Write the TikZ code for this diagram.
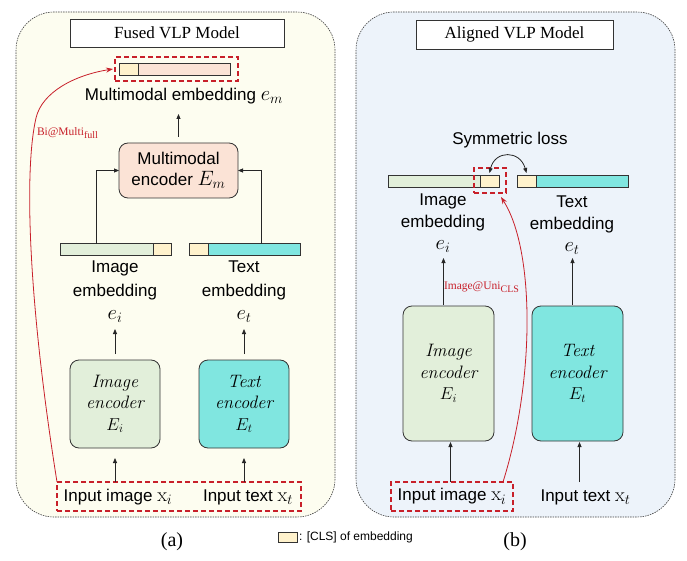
\documentclass[tikz,border=0pt]{standalone}
\usepackage{fontspec}
\newfontfamily\sansf{Liberation Sans}
\newfontfamily\seriff{Liberation Serif}
\usetikzlibrary{arrows.meta}
\definecolor{panelA}{HTML}{FDFDF0}
\definecolor{panelB}{HTML}{EDF3FA}
\definecolor{peach}{HTML}{FBE3D6}
\definecolor{clsc}{HTML}{FFF2CC}
\definecolor{imgg}{HTML}{E2EFDA}
\definecolor{txtc}{HTML}{80E6E0}
\definecolor{redd}{HTML}{C8202A}
\definecolor{edge}{HTML}{333333}
\newcommand\mymath[1]{{\fontsize{20}{20}\selectfont$#1$}}
\newcommand\mysub[1]{\raisebox{-3pt}{\fontsize{10}{10}\selectfont #1}}
\begin{document}
\begin{tikzpicture}[x=1pt,y=-1pt,
  every node/.style={inner sep=0pt,outer sep=0pt},
  panel/.style={draw=black!75,line width=0.6pt,dash pattern=on 1.5pt off 1pt,rounded corners=38pt},
  titlebox/.style={draw=edge,line width=0.9pt,fill=white,font=\seriff\fontsize{17}{20}\selectfont},
  bar/.style={draw=edge,line width=0.8pt,minimum height=12pt},
  encbox/.style={draw=edge,line width=0.8pt,rounded corners=9pt,align=center},
  enctext/.style={font=\rmfamily\itshape\fontsize{18}{21.5}\selectfont},
  lbl/.style={font=\sansf\fontsize{17}{23.5}\selectfont,align=center},
  lblb/.style={font=\sansf\fontsize{17}{22}\selectfont,align=center},
  reddash/.style={draw=redd,line width=1.1pt,dash pattern=on 5pt off 3pt},
  arr/.style={draw=black!85,line width=0.8pt,-{Triangle[length=5pt,width=4pt]}},
  redarr/.style={draw=redd,line width=0.8pt,-{Stealth[length=7pt,width=5pt]}},
  redlbl/.style={text=redd,font=\seriff\fontsize{11.5}{12}\selectfont},
  capt/.style={font=\seriff\fontsize{20}{24}\selectfont},
]
\useasboundingbox (0,0) rectangle (687,561);

% ---------- panels ----------
\node[panel,fill=panelA,minimum width=319pt,minimum height=505pt] (pA) at (175.5,264.5) {};
\node[panel,fill=panelB,minimum width=319pt,minimum height=505pt] (pB) at (515.5,264.5) {};

% ---------- (a) Fused ----------
\node[titlebox,minimum width=214pt,minimum height=28pt] (tA) at (177,33) {Fused VLP Model};

\node[bar,fill=peach,minimum width=111pt,anchor=west] (emA) at (119,69) {};
\node[bar,fill=clsc,minimum width=19pt,anchor=west] (emAc) at (emA.west) {};
\node[reddash,minimum width=123pt,minimum height=24pt] (rdA) at (176.5,69) {};
\node[lbl] (emAl) at (184,96) {Multimodal embedding \mymath{e_m}};

\node[encbox,fill=peach,minimum width=119pt,minimum height=55pt,
      font=\sansf\fontsize{17}{21}\selectfont] (mmA) at (178.5,170.5) {Multimodal\\encoder \mymath{E_m}};

\node[bar,fill=imgg,minimum width=111pt,anchor=west] (ieA) at (60,249.5) {};
\node[bar,fill=clsc,minimum width=18pt,anchor=east] (ieAc) at (ieA.east) {};
\node[bar,fill=txtc,minimum width=111pt,anchor=west] (teA) at (189,249.5) {};
\node[bar,fill=clsc,minimum width=19pt,anchor=west] (teAc) at (teA.west) {};

\node[lbl] (ieAl) at (115,292) {Image\\embedding\\\mymath{e_i}};
\node[lbl] (teAl) at (244,292) {Text\\embedding\\\mymath{e_t}};

\node[encbox,enctext,fill=imgg,minimum width=90pt,minimum height=88pt] (encIA) at (115,404) {Image\\encoder\\$E_i$};
\node[encbox,enctext,fill=txtc,minimum width=90pt,minimum height=88pt] (encTA) at (244,404) {Text\\encoder\\$E_t$};

\node[reddash,minimum width=244pt,minimum height=29pt] (rdInA) at (179,496.5) {};
\node[lbl] (inIA) at (118,497) {Input image \mymath{\mathrm{x}_i}};
\node[lbl] (inTA) at (248,497) {Input text \mymath{\mathrm{x}_t}};

\draw[arr] ([yshift=6pt]mmA.north) -- ([yshift=29pt]mmA.north);
\draw[arr] ([xshift=36pt]ieA.north west) |- (mmA.west);
\draw[arr] ([xshift=-39pt]teA.north east) |- (mmA.east);
\draw[arr] ([yshift=6pt]encIA.north) -- ([yshift=31pt]encIA.north);
\draw[arr] ([yshift=6pt]encTA.north) -- ([yshift=31pt]encTA.north);
\draw[arr] (encIA.south |- rdInA.north) -- ([yshift=-10pt]encIA.south);
\draw[arr] (encTA.south |- rdInA.north) -- ([yshift=-10pt]encTA.south);

\coordinate (bendA) at (36,118);
\draw[redarr] (rdInA.north west) .. controls (28,300) and (24,170) .. (bendA)
   .. controls (42,92) and (75,75) .. ([xshift=-2pt]rdA.west);
\node[redlbl,anchor=west] (blA) at (37,133) {Bi@Multi\mysub{full}};

\node[capt] (capA) at (172,542) {(a)};

% ---------- legend ----------
\node[bar,fill=clsc,minimum width=19pt,minimum height=10pt] (leg) at (287.5,537) {};
\node[font=\sansf\fontsize{12}{14}\selectfont,anchor=west] (legt) at ([xshift=2pt]leg.east) {: [CLS] of embedding};

% ---------- (b) Aligned ----------
\node[titlebox,minimum width=197pt,minimum height=29pt] (tB) at (514.5,34.5) {Aligned VLP Model};

\node[lbl] (sym) at (510,140) {Symmetric loss};

\node[bar,fill=imgg,minimum width=111pt,anchor=west] (ieB) at (388,181) {};
\node[bar,fill=clsc,minimum width=19pt,anchor=east] (ieBc) at (ieB.east) {};
\node[bar,fill=txtc,minimum width=111pt,anchor=west] (teB) at (517,181) {};
\node[bar,fill=clsc,minimum width=19pt,anchor=west] (teBc) at (teB.west) {};
\node[reddash,minimum width=32pt,minimum height=25pt] (rdB) at (490,180.5) {};

\draw[black!85,line width=0.8pt,{Triangle[length=5pt,width=4pt]}-{Triangle[length=5pt,width=4pt]}]
  ([yshift=2pt]ieBc.north) .. controls (495,150) and (520,150) .. ([yshift=2pt]teBc.north);

\node[lblb] (ieBl) at (443,223) {Image\\embedding\\\mymath{e_i}};
\node[lblb] (teBl) at (572,225) {Text\\embedding\\\mymath{e_t}};

\node[encbox,enctext,fill=imgg,minimum width=91pt,minimum height=135pt] (encIB) at (448.5,373.5) {Image\\encoder\\$E_i$};
\node[encbox,enctext,fill=txtc,minimum width=91pt,minimum height=135pt] (encTB) at (577.5,373.5) {Text\\encoder\\$E_t$};

\node[reddash,lbl,minimum width=122pt,minimum height=29pt] (inIB) at (452,496.5) {Input image \mymath{\mathrm{x}_i}};
\node[lbl] (inTB) at (585.5,497) {Input text \mymath{\mathrm{x}_t}};

\draw[arr] ([xshift=-5pt,yshift=1pt]encIB.north) -- ([xshift=-5pt,yshift=48pt]encIB.north);
\draw[arr] ([xshift=-5pt,yshift=1pt]encTB.north) -- ([xshift=-5pt,yshift=48pt]encTB.north);
\draw[arr] ([xshift=2pt]encIB.south |- inIB.north) -- ([xshift=2pt,yshift=-1pt]encIB.south);
\draw[arr] ([xshift=2pt]encTB.south |- inIB.north) -- ([xshift=2pt,yshift=-1pt]encTB.south);

\draw[redarr] ([xshift=-10pt]inIB.north east) .. controls (535,380) and (535,250) .. ([xshift=11pt,yshift=-4pt]rdB.south);
\node[redlbl,anchor=west] (ulB) at (444,287) {Image@Uni\mysub{CLS}};

\node[capt] (capB) at (515,542) {(b)};
\end{tikzpicture}
\end{document}
